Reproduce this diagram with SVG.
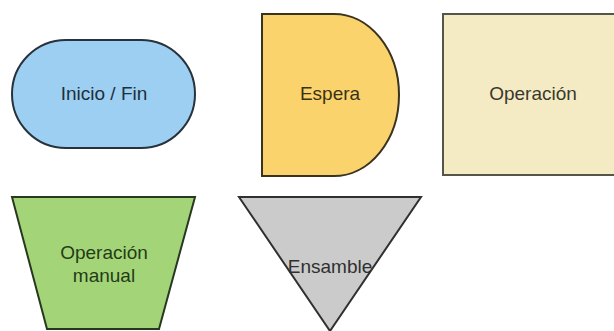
<svg xmlns="http://www.w3.org/2000/svg" width="614" height="331" viewBox="0 0 614 331">
  <style>
    .lbl { font-family: "Liberation Sans", Arial, sans-serif; font-size: 19px; text-anchor: middle; dominant-baseline: central; }
    .shape { stroke-width: 2; stroke-linejoin: miter; }
  </style>
  <rect width="614" height="331" fill="#ffffff"/>

  <!-- Terminator -->
  <g id="inicio-fin">
    <rect class="shape" x="12" y="40" width="183" height="108" rx="54" ry="54" fill="#9ccff1" stroke="#27323d"/>
    <text class="lbl" x="104" y="93" fill="#1f2f3d">Inicio / Fin</text>
  </g>

  <!-- Delay -->
  <g id="espera">
    <path class="shape" d="M262 14 H334 A65 81 0 0 1 334 176 H262 Z" fill="#fad36c" stroke="#3a331f"/>
    <text class="lbl" x="330" y="93" fill="#3a3214">Espera</text>
  </g>

  <!-- Process -->
  <g id="operacion">
    <rect class="shape" x="443" y="14" width="180" height="161" fill="#f4ebc4" stroke="#55554a"/>
    <text class="lbl" x="533" y="93" fill="#3a382c">Operación</text>
  </g>

  <!-- Manual operation -->
  <g id="operacion-manual">
    <path class="shape" d="M12 197 H195 L159 329 H47 Z" fill="#a3d578" stroke="#283820"/>
    <text class="lbl" x="104" y="252" fill="#243c16">Operación</text>
    <text class="lbl" x="104" y="275" fill="#243c16">manual</text>
  </g>

  <!-- Merge -->
  <g id="ensamble">
    <path class="shape" d="M239 197 H421 L330 331 Z" fill="#cbcbcb" stroke="#303030"/>
    <text class="lbl" x="330" y="266" fill="#303030">Ensamble</text>
  </g>

  <g id="connectors"/>
</svg>
